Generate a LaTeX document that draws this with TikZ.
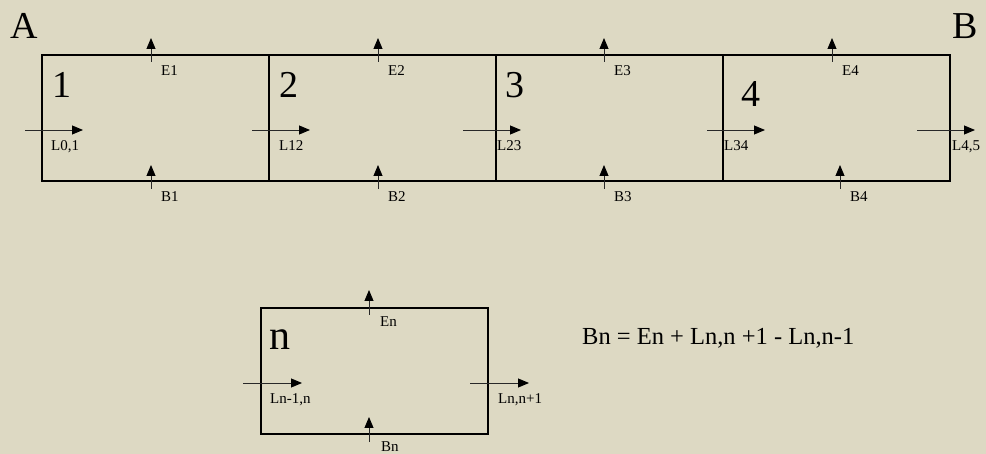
\documentclass[tikz,border=0pt]{standalone}
\usepackage{fontspec}
\setmainfont{Liberation Serif}
\usetikzlibrary{arrows.meta}
\definecolor{bg}{RGB}{221,217,195}
\definecolor{shaft}{RGB}{40,40,40}
\begin{document}
\begin{tikzpicture}[x=1pt,y=-1pt,
  cell/.style={draw=black,line width=1.9pt,inner sep=0pt,anchor=north west,minimum width=227pt,minimum height=126pt},
  flow/.style={draw=shaft,line width=0.9pt,-{Triangle[length=11pt,width=9pt,color=black]}},
  lab/.style={font=\fontsize{15}{17}\selectfont,inner sep=0pt,anchor=base west},
  big/.style={font=\fontsize{38}{40}\selectfont,inner sep=0pt,anchor=base west},
  formula/.style={font=\fontsize{24.5}{28}\selectfont,inner sep=0pt,anchor=base west}]
\fill[bg] (0,0) rectangle (986,454);
\useasboundingbox (0,0) rectangle (986,454);
% top cells
\node[cell] (c1) at (41,54) {};
\node[cell] (c2) at (268,54) {};
\node[cell] (c3) at (495,54) {};
\node[cell] (c4) at (722,54) {};
\node[big] (A) at (10,39) {A};
\node[big] (B) at (952,39) {B};
\node[big] (n1) at (52,98) {1};
\node[big] (n2) at (279,98) {2};
\node[big] (n3) at (505,98) {3};
\node[big] (n4) at (741,107) {4};
% E arrows
\foreach \i/\x in {1/151,2/378,3/604,4/832}{
  \coordinate (e\i s) at (\x,62); \coordinate (e\i t) at (\x,38);
  \draw[flow] (e\i s) -- (e\i t);
  \node[lab] (E\i) at (\x+10,76) {E\i};
}
% B arrows
\foreach \i/\x in {1/151,2/378,3/604,4/840}{
  \coordinate (b\i s) at (\x,189); \coordinate (b\i t) at (\x,165);
  \draw[flow] (b\i s) -- (b\i t);
  \node[lab] (B\i) at (\x+10,202) {B\i};
}
% L arrows
\foreach \k/\x/\t/\lx in {0/25/L0{,}1/51,1/252/L12/279,2/463/L23/497,3/707/L34/724,4/917/L4{,}5/952}{
  \coordinate (l\k s) at (\x,130); \coordinate (l\k t) at (\x+58,130);
  \draw[flow] (l\k s) -- (l\k t);
  \node[lab] (L\k) at (\lx,151) {\t};
}
% generic cell
\node[cell] (cn) at (260,307) {};
\node[big,font=\fontsize{42}{44}\selectfont] (nn) at (269,350) {n};
\coordinate (ens) at (369,315); \coordinate (ent) at (369,290);
\draw[flow] (ens) -- (ent);
\node[lab] (En) at (380,327) {En};
\coordinate (bns) at (369,442); \coordinate (bnt) at (369,417);
\draw[flow] (bns) -- (bnt);
\node[lab] (Bn) at (381,452) {Bn};
\coordinate (lis) at (243,383); \coordinate (lit) at (302,383);
\draw[flow] (lis) -- (lit);
\node[lab] (Lin) at (270,403) {Ln-1,n};
\coordinate (los) at (470,383); \coordinate (lot) at (529,383);
\draw[flow] (los) -- (lot);
\node[lab] (Lout) at (498,403) {Ln,n+1};
\node[formula] (eq) at (582,345) {Bn = En + Ln,n +1 - Ln,n-1};
\end{tikzpicture}
\end{document}
